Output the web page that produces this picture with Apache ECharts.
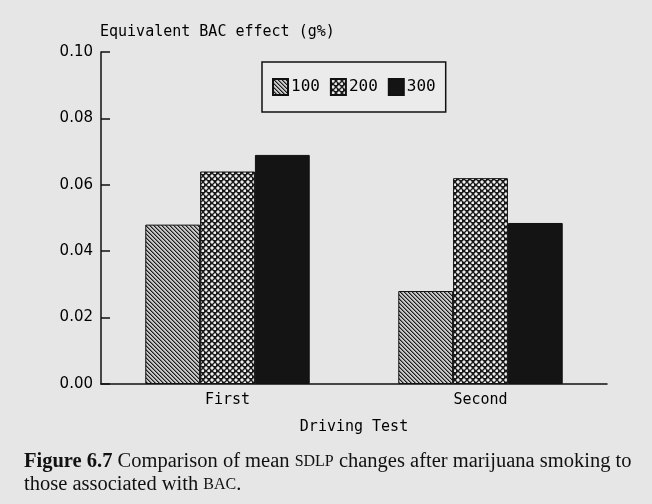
<!DOCTYPE html>
<html>
<head>
<meta charset="utf-8">
<script src="https://cdn.jsdelivr.net/npm/echarts@6/dist/echarts.min.js"></script>
<style>
html,body{margin:0;padding:0;background:#e6e6e6;}
#chart{width:652px;height:504px;}
</style>
</head>
<body>
<div id="chart"></div>
<script>
const categories = ['First', 'Second'];
const seriesNames = ['100', '200', '300'];
const values100 = [0.048, 0.028];
const values200 = [0.064, 0.062];
const values300 = [0.069, 0.0485];
const yTicks = [0.00, 0.02, 0.04, 0.06, 0.08, 0.10];

function makeTile(size, draw) {
  const c = document.createElement('canvas');
  c.width = size; c.height = size;
  const ctx = c.getContext('2d');
  draw(ctx);
  return c;
}
const stripe = makeTile(4, ctx => {
  ctx.fillStyle = '#c8c8c8'; ctx.fillRect(0, 0, 4, 4);
  for (let i = 0; i < 4; i++) {
    ctx.fillStyle = '#1c1c1c'; ctx.fillRect(i, i, 1, 1);
    ctx.fillStyle = '#7a7a7a'; ctx.fillRect((i + 1) % 4, i, 1, 1);
  }
});
const hatch = makeTile(6, ctx => {
  ctx.fillStyle = '#1a1a1a'; ctx.fillRect(0, 0, 6, 6);
  ctx.fillStyle = '#ededed';
  ctx.fillRect(1, 1, 2, 2);
  ctx.fillRect(4, 4, 2, 2);
  ctx.fillStyle = '#8a8a8a';
  ctx.fillRect(0, 1, 1, 2); ctx.fillRect(3, 1, 1, 2);
  ctx.fillRect(1, 0, 2, 1); ctx.fillRect(1, 3, 2, 1);
  ctx.fillRect(3, 4, 1, 2); ctx.fillRect(4, 3, 2, 1);
});
const mono = 'DejaVu Sans Mono';

const chart = echarts.init(document.getElementById('chart'), null, {renderer: 'canvas'});
chart.setOption({
  backgroundColor: '#e6e6e6',
  animation: false,
  title: {
    text: 'Equivalent BAC effect (g%)',
    left: 95, top: 20,
    textStyle: {fontFamily: mono, fontSize: 15, fontWeight: 'normal', color: '#000'}
  },
  legend: {
    left: 262, top: 62, width: 185, height: 50,
    padding: [16, 10], itemGap: 10,
    itemWidth: 15, itemHeight: 16,
    icon: 'rect',
    borderColor: '#111', borderWidth: 1.5,
    backgroundColor: '#ebebeb',
    textStyle: {fontFamily: mono, fontSize: 16, color: '#000', padding: [0,0,0,-2]},
    data: seriesNames
  },
  grid: {left: 101, right: 45, top: 52, bottom: 120},
  xAxis: {
    type: 'category',
    data: categories,
    name: 'Driving Test',
    nameLocation: 'middle',
    nameGap: 36,
    nameTextStyle: {fontFamily: mono, fontSize: 15, color: '#000'},
    axisLine: {lineStyle: {color: '#111', width: 1.5}},
    axisTick: {show: false},
    axisLabel: {fontFamily: mono, fontSize: 15, color: '#000', margin: 9}
  },
  yAxis: {
    type: 'value',
    min: yTicks[0], max: yTicks[yTicks.length - 1], interval: 0.02,
    axisLine: {show: true, lineStyle: {color: '#111', width: 1.5}},
    axisTick: {show: true, inside: true, length: 9, lineStyle: {color: '#111', width: 1.5}},
    splitLine: {show: false},
    axisLabel: {fontFamily: 'DejaVu Sans', fontSize: 15, color: '#000', margin: 8,
      formatter: v => v.toFixed(2)}
  },
  series: [
    {name: seriesNames[0], type: 'bar', data: values100, barGap: '0%', barCategoryGap: '35%',
     itemStyle: {color: {image: stripe, repeat: 'repeat'}, borderColor: '#111', borderWidth: 1}},
    {name: seriesNames[1], type: 'bar', data: values200,
     itemStyle: {color: {image: hatch, repeat: 'repeat'}, borderColor: '#111', borderWidth: 1}},
    {name: seriesNames[2], type: 'bar', data: values300,
     itemStyle: {color: '#141414', borderColor: '#111', borderWidth: 1}}
  ],
  graphic: [
    {type: 'text', left: 24, top: 450,
     style: {
       text: '{b|Figure 6.7} Comparison of mean {s|SDLP} changes after marijuana smoking to\nthose associated with {s|BAC}.',
       fontFamily: 'Liberation Serif', fontSize: 20.5, fill: '#111', lineHeight: 23,
       rich: {
         b: {fontFamily: 'Liberation Serif', fontSize: 20.5, fontWeight: 'bold', fill: '#111'},
         s: {fontFamily: 'Liberation Serif', fontSize: 16, fill: '#111'}
       }
     }}
  ]
});
</script>
</body>
</html>
